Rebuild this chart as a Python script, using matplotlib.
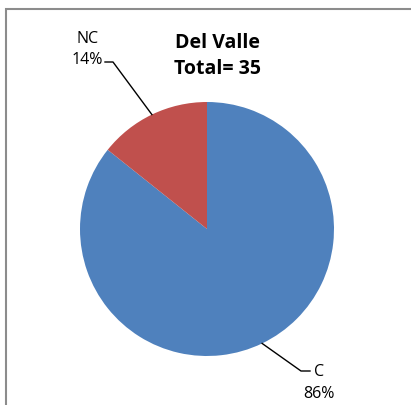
import numpy as np
import matplotlib.pyplot as plt
from matplotlib.patches import Rectangle

# Data
labels = ["C", "NC"]
counts = [30, 5]
colors = ["#4F81BD", "#C0504D"]
title = "Del Valle\nTotal= 35"

W, H = 411, 406
fig = plt.figure(figsize=(W / 100, H / 100), dpi=100)
plt.rcParams['font.family'] = ['Open Sans', 'DejaVu Sans']

# chart area border (only top and left visible in crop)
fig.patches.append(Rectangle((6 / W, -0.1), 1.2, 1.1 - 10 / H, transform=fig.transFigure,
                             fill=False, edgecolor="#8c8c8c", linewidth=1.5))

cx, cy, r = 207, 230, 127
ax = fig.add_axes([(cx - r) / W, (H - cy - r) / H, 2 * r / W, 2 * r / H])
wedges, _ = ax.pie(counts, colors=colors, startangle=90, counterclock=False,
                   radius=1, wedgeprops=dict(linewidth=0))
ax.set_xlim(-1, 1)
ax.set_ylim(-1, 1)
ax.set_aspect("equal")
ax.axis("off")

total = sum(counts)
pct = [round(100 * c / total) for c in counts]

# label elbow positions (pixels) and text offsets
elbows = {"C": ((301, 372), (310, 372), "left"), "NC": ((113, 63), (105, 63), "right")}
fs = 11.5
for w, lab, p in zip(wedges, labels, pct):
    ang = np.deg2rad((w.theta1 + w.theta2) / 2)
    x0, y0 = np.cos(ang), np.sin(ang)
    (ex, ey), (tx, ty), side = elbows[lab]
    ex, ey = (ex - cx) / r, (cy - ey) / r
    tx, ty = (tx - cx) / r, (cy - ty) / r
    ax.plot([x0, ex, tx], [y0, ey, ty], color="black", linewidth=1, clip_on=False)
    if lab == "C":
        ax.text(tx + 0.03, ty, lab, ha="left", va="center", fontsize=fs, clip_on=False)
        ax.text(tx + 0.07, ty - 0.17, f"{p}%", ha="center", va="center", fontsize=fs, clip_on=False)
    else:
        ax.text(tx - 0.14, ty + 0.19, lab, ha="center", va="center", fontsize=fs, clip_on=False)
        ax.text(tx - 0.02, ty + 0.02, f"{p}%", ha="right", va="center", fontsize=fs, clip_on=False)

fig.text(217 / W, 1 - 56 / H, title, ha="center", va="center", fontsize=14,
         fontweight="bold", linespacing=1.35)

fig.savefig("out.png", dpi=100)
